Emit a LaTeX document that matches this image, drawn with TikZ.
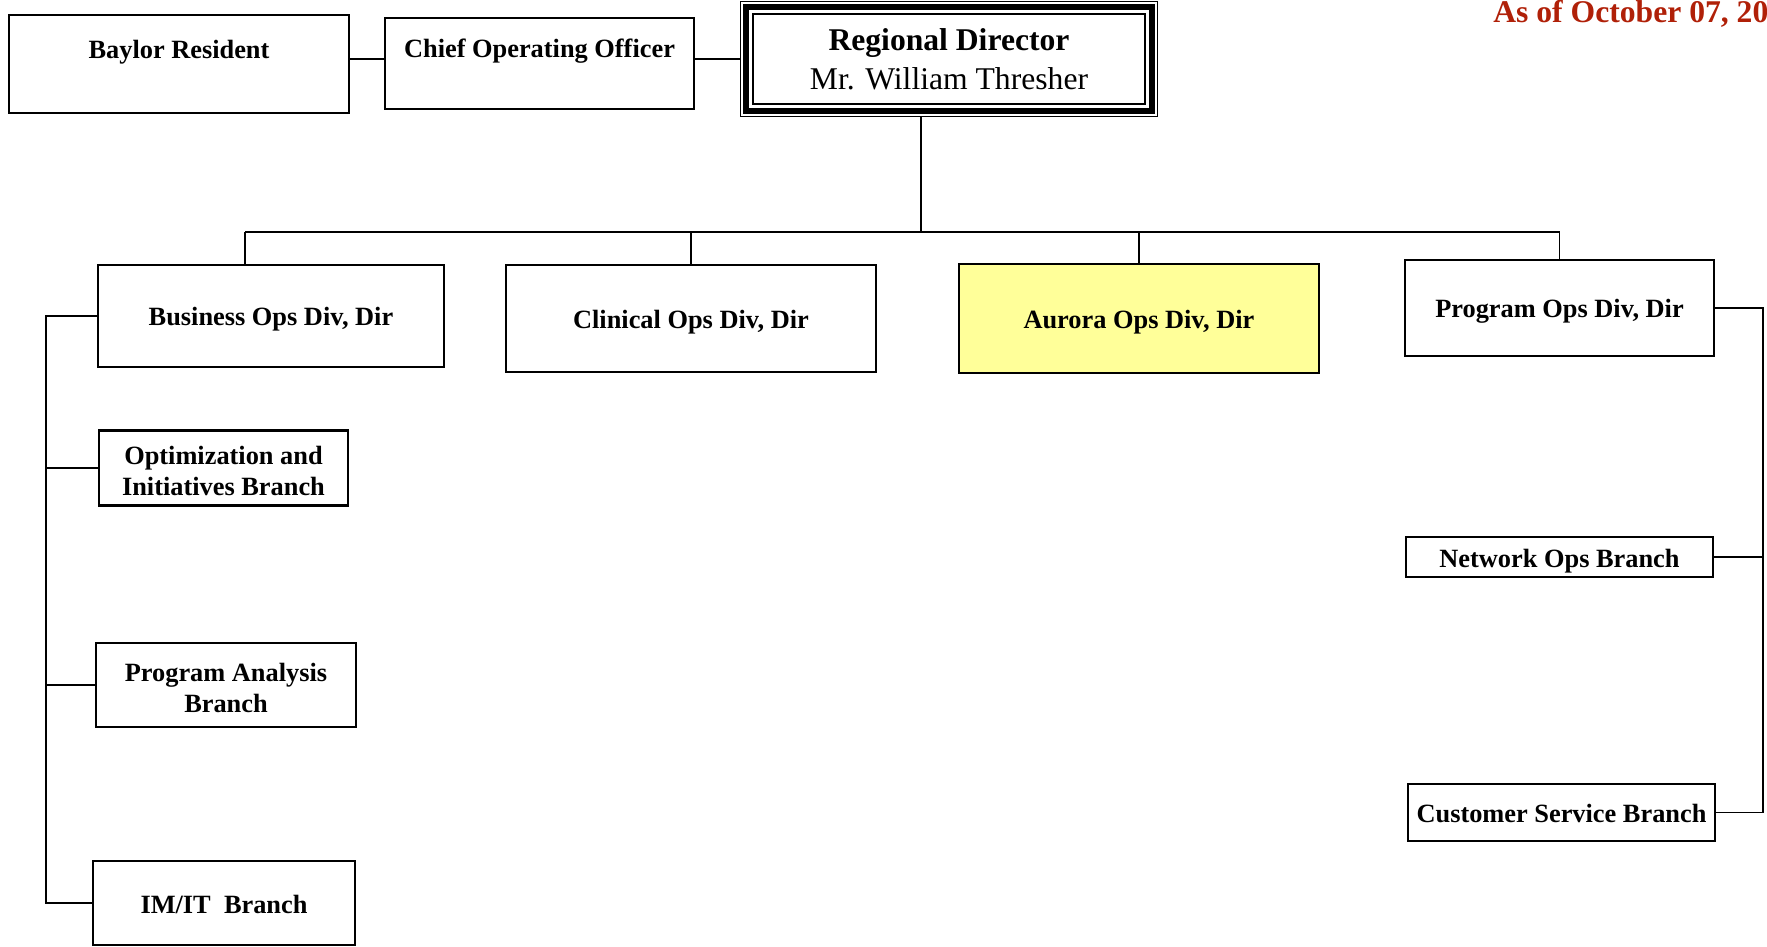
\documentclass[tikz,border=0pt]{standalone}
\usepackage{fontspec}
\setmainfont{Liberation Serif}
\usepackage{tikz}
\usetikzlibrary{positioning}
\usetikzlibrary{fit,calc}
\definecolor{datered}{RGB}{176,32,8}
\definecolor{auroraFill}{RGB}{255,255,153}
\tikzset{
  orgbox/.style={draw, line width=1.3pt, align=center, inner sep=0pt,
    font=\bfseries\fontsize{15}{18}\selectfont},
  onebox/.style={orgbox, text height=5.2mm, text depth=1.2mm},
  topbox/.style={orgbox, text height=3.6mm, text depth=5.8mm},
  link/.style={line width=1pt}
}

\begin{document}
\begin{tikzpicture}[x=0.2mm,y=-0.2mm]
\useasboundingbox (0,0) rectangle (1767,947);

% ================= Top row =================
\node[topbox, minimum width=68mm, minimum height=19.6mm] (baylor) at (179,64) {Baylor Resident};
\node[topbox, minimum width=61.8mm, minimum height=18.2mm] (coo) at (539.5,63.5) {Chief Operating Officer};

\node[draw, line width=0.8pt, align=center, inner sep=0pt,
      minimum width=78.4mm, minimum height=18mm,
      font=\fontsize{18}{22.4}\selectfont] (rd) at (949,59)
  {\textbf{Regional Director}\\Mr. William Thresher};
\node[fit=(rd), inner sep=1.2mm, draw, line width=3.2pt] (rdband) {};
\node[fit=(rd), inner sep=2.4mm, draw, line width=0.8pt] (rdframe) {};

\node[anchor=base west, inner sep=0pt, text=datered,
      font=\bfseries\fontsize{18}{21}\selectfont] (asof) at (1493,23) {As of October 07, 20};

\draw[link] (baylor.east |- rd) -- (coo.west |- rd);
\draw[link] (coo.east |- rd) -- (rdframe.west);

% ================= Divisions =================
\node[onebox, minimum width=69.2mm, minimum height=20.4mm] (bizops) at (271,316) {Business Ops Div, Dir};
\node[onebox, minimum width=74mm, minimum height=21.4mm] (clinops) at (691,318.5) {Clinical Ops Div, Dir};
\node[onebox, fill=auroraFill, minimum width=72mm, minimum height=21.8mm] (auroraops) at (1139,318.5) {Aurora Ops Div, Dir};
\node[onebox, minimum width=61.8mm, minimum height=19.2mm] (progops) at (1559.5,308) {Program Ops Div, Dir};

\coordinate (hub) at (921,232);
\coordinate (busL) at (245,232);
\draw[link] (rdframe.south -| hub) -- (hub);
\draw[link] (busL) -- (hub -| progops);
\draw[link] (busL) -- (busL |- bizops.north);
\foreach \n in {clinops, auroraops, progops}{
  \draw[link] (hub -| \n.north) -- (\n.north);
}

% ================= Business Ops branches =================
\node[orgbox, minimum width=49.8mm, minimum height=15mm,
      font=\bfseries\fontsize{15}{17.6}\selectfont] (optbr) at (223.5,468)
  {\rule{0pt}{14pt}Optimization and\\Initiatives Branch};
\node[orgbox, minimum width=52mm, minimum height=16.8mm] (pabr) at (226,685)
  {\rule{0pt}{14pt}Program Analysis\\Branch};
\node[onebox, minimum width=52.4mm, minimum height=16.8mm] (imitbr) at (224,903) {IM/IT\ \ Branch};

\coordinate (lbus) at (46,0);
\draw[link] (bizops.west) -- (bizops.west -| lbus) -- (imitbr.west -| lbus) -- (imitbr.west);
\foreach \n in {optbr, pabr}{
  \draw[link] (\n.west -| lbus) -- (\n.west);
}

% ================= Program Ops branches =================
\node[onebox, minimum width=61.4mm, minimum height=8mm] (netops) at (1559.5,557) {Network Ops Branch};
\node[onebox, minimum width=61.4mm, minimum height=11.4mm] (csbr) at (1561.5,812.5) {Customer Service Branch};

\coordinate (rbus) at (1763,0);
\draw[link] (progops.east) -- (progops.east -| rbus) -- (csbr.east -| rbus) -- (csbr.east);
\draw[link] (netops.east -| rbus) -- (netops.east);

\end{tikzpicture}
\end{document}
